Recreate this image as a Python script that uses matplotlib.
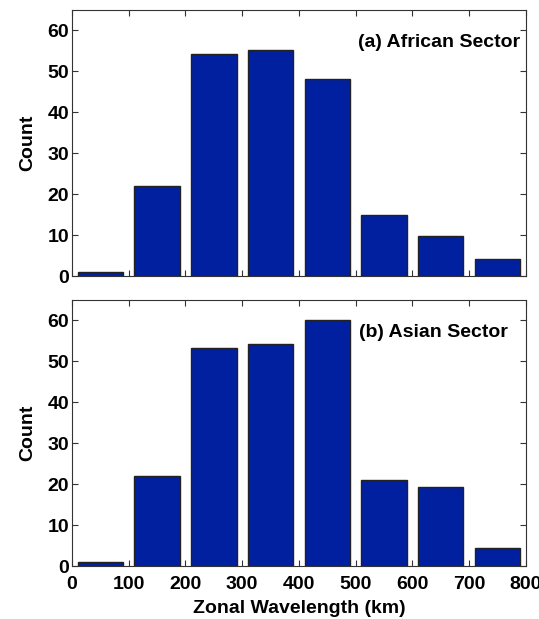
import numpy as np
import matplotlib.pyplot as plt

# bin centres (km) and counts
centres = [50, 150, 250, 350, 450, 550, 650, 750]
african = [1, 22, 54.2, 55.2, 48.1, 14.9, 9.9, 4.2]
asian = [1, 22.1, 53.2, 54.2, 60.0, 21.0, 19.2, 4.3]

xticks = [0, 100, 200, 300, 400, 500, 600, 700, 800]
yticks = [0, 10, 20, 30, 40, 50, 60]

plt.rcParams['font.family'] = ['Liberation Sans', 'DejaVu Sans']
plt.rcParams['font.weight'] = 'bold'

fig = plt.figure(figsize=(5.39, 6.19), dpi=100)
ax1 = fig.add_axes([0.1336, 0.554, 0.842, 0.430])
ax2 = fig.add_axes([0.1336, 0.0856, 0.842, 0.4297])

panels = [(ax1, african, '(a) African Sector', 790),
          (ax2, asian, '(b) Asian Sector', 768)]

for ax, vals, lab, xr in panels:
    ax.bar(centres, vals, width=80, color='#0020a0', edgecolor='#222222', linewidth=1.0)
    ax.set_xlim(0, 800)
    ax.set_ylim(0, 65)
    ax.set_xticks(xticks)
    ax.set_yticks(yticks)
    ax.tick_params(direction='in', top=True, right=True, length=4, width=0.8,
                   labelsize=14, color='#333333')
    ax.tick_params(axis='y', pad=2)
    ax.tick_params(axis='x', pad=7)
    for s in ax.spines.values():
        s.set_linewidth(0.8)
        s.set_color('#333333')
    ax.set_ylabel('Count', fontsize=14, fontweight='bold', labelpad=8)
    ax.text(xr, 57, lab, ha='right', va='center', fontsize=14, fontweight='bold')

ax1.tick_params(labelbottom=False)
ax2.set_xlabel('Zonal Wavelength (km)', fontsize=14, fontweight='bold', labelpad=5)

fig.savefig('out.png', dpi=100)
